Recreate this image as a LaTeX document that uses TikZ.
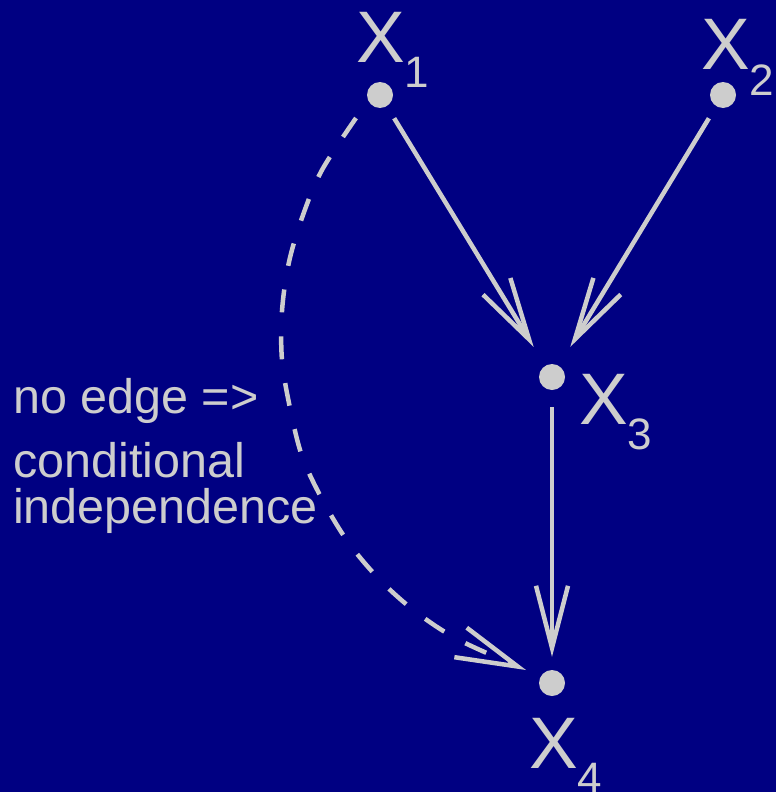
\documentclass[tikz,border=0pt]{standalone}
\usepackage{fontspec}
\setmainfont{Liberation Sans}
\usetikzlibrary{arrows.meta}
\definecolor{bgblue}{RGB}{0,0,130}
\definecolor{fg}{RGB}{205,205,205}
\tikzset{
  dot/.style={circle, fill=fg, draw=none, minimum size=26pt, inner sep=0pt},
  xlabel/.style={text=fg, inner sep=0pt, anchor=base west, font=\fontsize{73}{73}\selectfont},
  txt/.style={text=fg, inner sep=0pt, anchor=base west, font=\fontsize{48.5}{48.5}\selectfont},
  edge/.style={draw=fg, line width=4.5pt, -{Straight Barb[length=62pt, width=32pt, line width=4.5pt]}},
  dep/.style={edge, dash pattern=on 23pt off 24pt},
}
\newcommand{\sbx}[1]{\raisebox{-25pt}{\fontsize{44}{44}\selectfont #1}}
\begin{document}
\begin{tikzpicture}[x=1pt, y=-1pt]
  \useasboundingbox (0,0) rectangle (776,792);
  \fill[bgblue] (0,0) rectangle (776,792);
  % dots
  \node[dot] (x1) at (380,95) {};
  \node[dot] (x2) at (723,95) {};
  \node[dot] (x3) at (552,377) {};
  \node[dot] (x4) at (552,683) {};
  % labels
  \node[xlabel] (l1) at (356,63) {X\sbx{1}};
  \node[xlabel] (l2) at (701,70) {X\sbx{2}};
  \node[xlabel] (l3) at (579,424) {X\sbx{3}};
  \node[xlabel] (l4) at (529,768) {X\sbx{4}};
  % text
  \node[txt] (t1) at (13,413) {no edge =>};
  \node[txt] (t2) at (13,477) {conditional};
  \node[txt] (t3) at (13,523) {independence};
  % edges
  \draw[edge, shorten <=14pt, shorten >=22pt] (x1) -- (x3);
  \draw[edge, shorten <=14pt, shorten >=22pt] (x2) -- (x3);
  \draw[edge, shorten <=17pt, shorten >=13pt] (x3) -- (x4);
  % dashed curve
  \coordinate (cs) at (356,118);
  \coordinate (ce) at (526,670);
  \draw[dep] plot[smooth, tension=0.55] coordinates {(cs) (322,170) (303,215) (289,262) (282,311) (282,360) (290,408) (302,456) (322,499) (348,542) (380,580) (416,612) (459,640) (ce)};
\end{tikzpicture}
\end{document}
